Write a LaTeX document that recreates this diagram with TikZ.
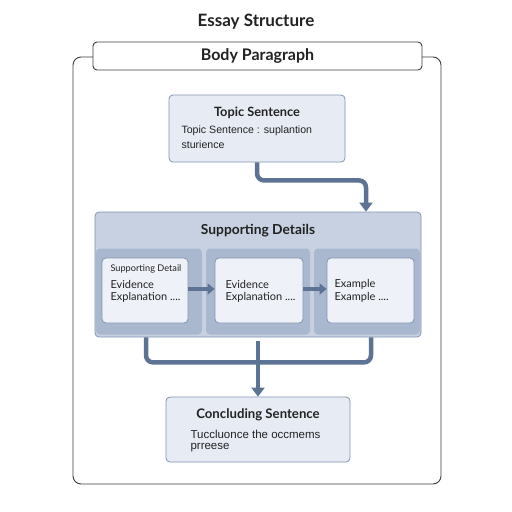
\documentclass[tikz,border=0pt]{standalone}
\usepackage{fontspec}
\setmainfont{Lato}
\newfontfamily\bodyfont{Liberation Sans}
\usetikzlibrary{arrows.meta,positioning}
\definecolor{framegray}{HTML}{3C3C3C}
\definecolor{boxline}{HTML}{8094B0}
\definecolor{lightfill}{HTML}{E7ECF4}
\definecolor{suppfill}{HTML}{C7D1E1}
\definecolor{panelfill}{HTML}{A9B8CE}
\definecolor{cardfill}{HTML}{EEF1F7}
\definecolor{flowblue}{HTML}{5C7394}
\definecolor{textgray}{HTML}{222222}

\begin{document}
\begin{tikzpicture}[x=1pt,y=-1pt,line cap=round,line join=round,
  box/.style={draw=boxline,line width=0.8pt,rounded corners=4pt,inner sep=0pt},
  head/.style={font=\bfseries\fontsize{13}{15}\selectfont,text=textgray},
  body/.style={anchor=west,font=\bodyfont\fontsize{10.6}{13}\selectfont,text=textgray},
  card/.style={anchor=west,font=\fontsize{11}{13}\selectfont,text=textgray},
  flow/.style={draw=flowblue,line width=4.5pt,line cap=butt,-{Triangle[length=9pt,width=13pt]}}]
		\useasboundingbox (0,0) rectangle (512,512);
		\fill[white] (0,0) rectangle (512,512);
		\draw [framegray,line width=0.9pt,rounded corners=8pt] (73,57) rectangle (441,484);
		\node[font=\bfseries\fontsize{17}{19}\selectfont,text=textgray] (title) at (256,22) {Essay Structure};
		\node[draw=framegray,fill=white,line width=0.9pt,rounded corners=4pt,minimum width=329pt,minimum height=28pt,inner sep=0pt,font=\bfseries\fontsize{16}{18}\selectfont,text=textgray] (bodypar) at (257.5,56) {Body Paragraph};
		\node[box,fill=lightfill,minimum width=176pt,minimum height=67pt] (topic) at (257,128.5) {};
		\node[head,font=\bfseries\fontsize{12.8}{15}\selectfont] (topictitle) at (257,113) {Topic Sentence};
		\node[body] (topicline1) at (178,131) {Topic Sentence : suplantion};
		\node[body] (topicline2) at (178,145) {sturience};
		\node[box,fill=suppfill,minimum width=326pt,minimum height=125pt] (supp) at (258,274.5) {};
		\node[head,font=\bfseries\fontsize{13.8}{16}\selectfont] (supptitle) at (258,231) {Supporting Details};
		\node[fill=panelfill,rounded corners=4pt,minimum width=106pt,minimum height=86pt,inner sep=0pt] (panela) at (149,291.5) {};
		\node[fill=panelfill,rounded corners=4pt,minimum width=104pt,minimum height=86pt,inner sep=0pt] (panelb) at (258,291.5) {};
		\node[fill=panelfill,rounded corners=4pt,minimum width=106pt,minimum height=86pt,inner sep=0pt] (panelc) at (367,291.5) {};
		\node[box,fill=cardfill,minimum width=86pt,minimum height=65pt] (carda) at (145,290.5) {};
		\node[box,fill=cardfill,minimum width=88pt,minimum height=65pt] (cardb) at (259,290.5) {};
		\node[box,fill=cardfill,minimum width=87pt,minimum height=65pt] (cardc) at (370.5,290.5) {};
		\node[card,font=\fontsize{9.2}{11}\selectfont] (cardahead) at (107,269) {Supporting Detail};
		\node[card] (cardaline1) at (107,284) {Evidence};
		\node[card] (cardaline2) at (107,297.5) {Explanation ....};
		\node[card] (cardbline1) at (222,284) {Evidence};
		\node[card] (cardbline2) at (222,297.5) {Explanation ....};
		\node[card] (cardcline1) at (331,284) {Example};
		\node[card] (cardcline2) at (331,297.5) {Example ....};
		\draw[flow,-{Triangle[length=7pt,width=11pt]}] (carda.east |- 0,289) -- (cardb.west |- 0,289);
		\draw[flow,-{Triangle[length=7pt,width=11pt]}] (cardb.east |- 0,289) -- (cardc.west |- 0,289);
		\node[box,fill=lightfill,minimum width=184pt,minimum height=65pt] (concl) at (258,429.5) {};
		\node[head,font=\bfseries\fontsize{13.2}{15}\selectfont] (concltitle) at (258,415) {Concluding Sentence};
		\node[body,font=\bodyfont\fontsize{11.5}{13}\selectfont] (conclline1) at (187,434) {Tuccluonce the occmems};
		\node[body,font=\bodyfont\fontsize{11.5}{13}\selectfont] (conclline2) at (187,448) {prreese};
		\draw[flow,rounded corners=7pt] (topic.south) -- ++(0,18) -| ([xshift=108pt]supp.north);
		\draw[draw=flowblue,line width=4.5pt,line cap=butt,rounded corners=7pt] ([xshift=-112pt]supp.south) -- ++(0,25) -| ([xshift=113pt]supp.south);
		\draw[flow] ([yshift=-4pt]supp.south) -- (concl.north);
	\end{tikzpicture}
\end{document}
